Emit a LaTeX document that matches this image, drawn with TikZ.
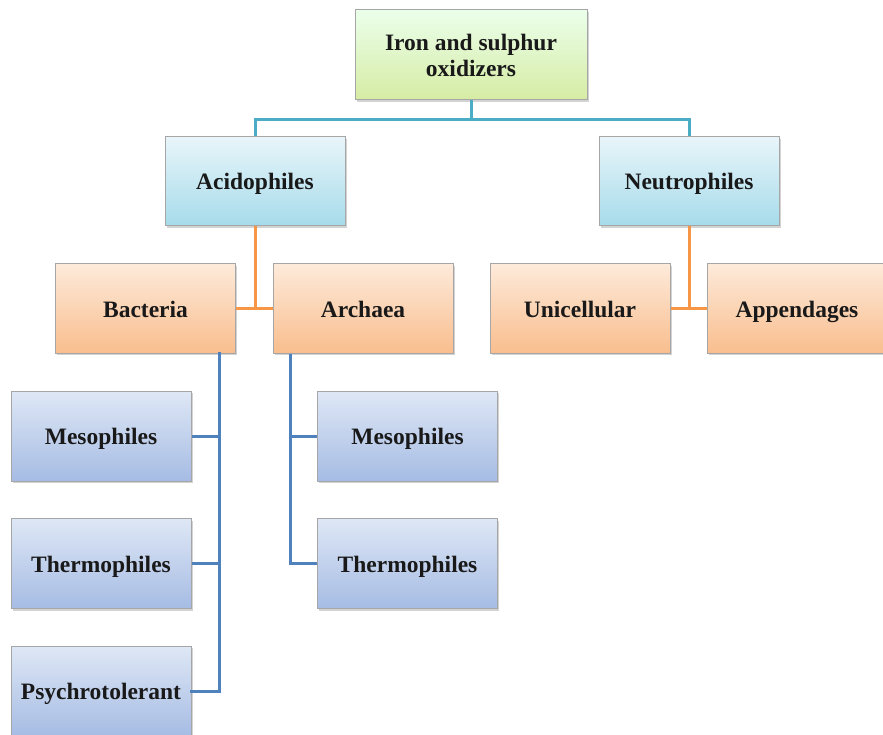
\documentclass[tikz,border=0pt]{standalone}
\usepackage{fontspec}
\setmainfont{Liberation Serif}
\usetikzlibrary{shadows,calc}
\definecolor{tealline}{HTML}{4BACC6}
\definecolor{orangeline}{HTML}{F79646}
\definecolor{blueline}{HTML}{4F81BD}
\definecolor{boxedge}{HTML}{A6A6A6}
\tikzset{
  box/.style={draw=boxedge, line width=1pt, minimum width=180pt, minimum height=89pt,
    align=center, font=\fontsize{23.5}{26}\selectfont\bfseries, text=black!90,
    text height=17pt, text depth=0pt,
    drop shadow={opacity=0.35, shadow xshift=1.5pt, shadow yshift=-2pt}},
  greenbox/.style={box, top color=green!8!white, bottom color={rgb,255:red,214;green,236;blue,164}},
  cyanbox/.style={box, top color={rgb,255:red,232;green,245;blue,250}, bottom color={rgb,255:red,166;green,219;blue,234}},
  orangebox/.style={box, top color={rgb,255:red,253;green,234;blue,218}, bottom color={rgb,255:red,249;green,190;blue,142}},
  bluebox/.style={box, top color={rgb,255:red,222;green,231;blue,245}, bottom color={rgb,255:red,166;green,188;blue,228}},
  conn/.style={line width=3pt},
}
\begin{document}
\begin{tikzpicture}[x=1pt,y=-1pt]
\useasboundingbox (0,0) rectangle (883,735);
\node[greenbox, minimum width=232pt, minimum height=90pt, text height=43pt] (top) at (471,55) {Iron and sulphur\\oxidizers};
\node[cyanbox] (acid) at (255,181.5) {Acidophiles};
\node[cyanbox] (neut) at (689,181.5) {Neutrophiles};
\node[orangebox] (bact) at (145.5,308.5) {Bacteria};
\node[orangebox] (arch) at (363,308.5) {Archaea};
\node[orangebox] (uni) at (580,308.5) {Unicellular};
\node[orangebox] (app) at (797,308.5) {Appendages};
\node[bluebox, minimum height=90pt] (mesoL) at (101,436) {Mesophiles};
\node[bluebox, minimum height=90pt] (thermoL) at (101,563.5) {Thermophiles};
\node[bluebox, minimum height=90pt] (psy) at (101,691) {Psychrotolerant};
\node[bluebox, minimum height=90pt] (mesoR) at (407.5,436) {Mesophiles};
\node[bluebox, minimum height=90pt] (thermoR) at (407.5,563.5) {Thermophiles};
% connectors
\coordinate (j1) at (471,120);
\draw[conn, tealline] (top.south) -- (j1);
\draw[conn, tealline] (j1) -| (acid.north);
\draw[conn, tealline] (j1) -| (neut.north);
\draw[conn, orangeline] (acid.south) -- (acid.south |- bact.east);
\draw[conn, orangeline] (bact.east) -- (arch.west);
\draw[conn, orangeline] (neut.south) -- (neut.south |- uni.east);
\draw[conn, orangeline] (uni.east) -- (app.west);
\coordinate (bx) at ($(bact.south east)+(-17,0)$);
\coordinate (ax) at ($(arch.south west)+(18,0)$);
\draw[conn, blueline] (bx) |- (mesoL.east);
\draw[conn, blueline] (bx) |- (thermoL.east);
\draw[conn, blueline, line cap=rect] (bx) |- (psy.east);
\draw[conn, blueline] (ax) |- (mesoR.west);
\draw[conn, blueline] (ax) |- (thermoR.west);
\end{tikzpicture}
\end{document}
